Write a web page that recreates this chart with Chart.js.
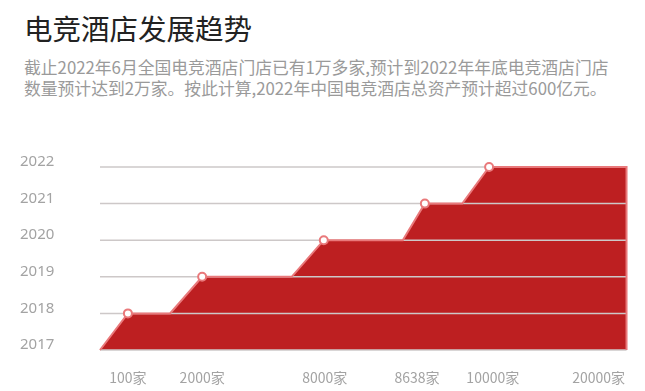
<!DOCTYPE html>
<html>
<head>
<meta charset="utf-8">
<script src="https://cdn.jsdelivr.net/npm/chart.js@4"></script>
<style>
  body { margin: 0; width: 645px; height: 391px; background: #fff; position: relative; overflow: hidden;
         font-family: "Noto Sans CJK SC", "Noto Sans", sans-serif; }
  h1 { position: absolute; left: 24px; top: 9px; margin: 0; font-size: 28.5px; font-weight: 400; color: #222; line-height: 38px; }
  p { position: absolute; left: 24px; top: 57px; margin: 0; font-size: 16.8px; color: #9a9a9a; line-height: 21px; width: 620px; }
  #wrap { position: absolute; left: 0; top: 140px; width: 645px; height: 251px; }
</style>
</head>
<body>
<h1>电竞酒店发展趋势</h1>
<p>截止2022年6月全国电竞酒店门店已有1万多家,预计到2022年年底电竞酒店门店<br>数量预计达到2万家。按此计算,2022年中国电竞酒店总资产预计超过600亿元。</p>
<div id="wrap"><canvas id="trend"></canvas></div>
<script>
// years on the y axis
const years = [2017, 2018, 2019, 2020, 2021, 2022];
// store counts shown under the chart, and where they sit on the 0-100 progress axis
const storeLabels = ['100家', '2000家', '8000家', '8638家', '10000家', '20000家'];
const labelPos = [5.3, 19.4, 42.7, 60.2, 74.6, 94.7];
// outline of the stepped area (x on the 0-100 axis, y in years)
const stepX = [0, 5.3, 13.3, 19.4, 36.4, 42.5, 57.5, 61.7, 68.8, 73.9, 100, 100];
const stepY = [2017, 2018, 2018, 2019, 2019, 2020, 2020, 2021, 2021, 2022, 2022, 2017];
// which corners get a marker
const marked = [0, 1, 0, 1, 0, 1, 0, 1, 0, 1, 0, 0];

const points = stepX.map((x, i) => ({ x: x, y: stepY[i] }));

// grey year lines go over the red area but under the outline and markers
const gridOverFill = {
  id: 'gridOverFill',
  beforeDatasetsDraw(chart) {
    const { ctx, chartArea, scales } = chart;
    const y = scales.y;
    ctx.save();
    ctx.strokeStyle = '#cdc8c8';
    ctx.lineWidth = 1.5;
    years.forEach(v => {
      const py = y.getPixelForValue(v);
      ctx.beginPath();
      ctx.moveTo(chartArea.left, py);
      ctx.lineTo(chartArea.right, py);
      ctx.stroke();
    });
    ctx.restore();
  }
};

new Chart(document.getElementById('trend'), {
  type: 'line',
  data: {
    datasets: [{
      data: points,
      clip: false,
      borderColor: '#e9797b',
      borderWidth: 2,
      backgroundColor: '#bd1f21',
      fill: 'start',
      tension: 0,
      pointRadius: marked.map(m => m ? 4 : 0),
      pointHoverRadius: marked.map(m => m ? 4 : 0),
      pointBackgroundColor: '#fff',
      pointBorderColor: '#e9797b',
      pointBorderWidth: 2
    }]
  },
  options: {
    responsive: true,
    maintainAspectRatio: false,
    animation: false,
    layout: { padding: { top: 27, right: 18, left: 20, bottom: 0 } },
    plugins: {
      legend: { display: false },
      tooltip: { enabled: false },
      filler: { drawTime: 'beforeDatasetsDraw' }
    },
    scales: {
      x: {
        type: 'linear',
        min: 0,
        max: 100,
        grid: { display: false, drawTicks: false },
        border: { display: false },
        afterBuildTicks: s => { s.ticks = labelPos.map(v => ({ value: v })); },
        afterFit: s => { s.height = 41; },
        ticks: {
          autoSkip: false,
          maxRotation: 0,
          padding: 19,
          color: '#a3a3a3',
          font: { family: '"Noto Sans CJK SC", sans-serif', size: 14 },
          callback: (v, i) => storeLabels[i]
        }
      },
      y: {
        min: 2017,
        max: 2022,
        grid: { display: false, drawTicks: false },
        border: { display: false },
        afterFit: s => { s.width = 80; },
        ticks: {
          stepSize: 1,
          padding: 0,
          crossAlign: 'far',
          labelOffset: -5,
          color: '#a3a3a3',
          font: { family: '"Noto Sans", sans-serif', size: 15 },
          callback: v => String(v)
        }
      }
    }
  },
  plugins: [gridOverFill]
});
</script>
</body>
</html>
